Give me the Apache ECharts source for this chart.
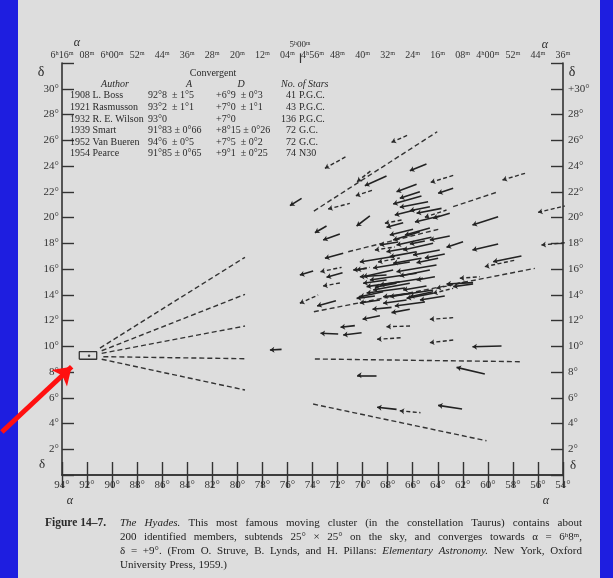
<!DOCTYPE html>
<html><head><meta charset="utf-8">
<script src="https://cdn.jsdelivr.net/npm/echarts@6/dist/echarts.min.js"></script>
<style>html,body{margin:0;padding:0;background:#1e1ee0;}#c{width:613px;height:578px;}</style>
</head><body><div id="c"></div>
<script>
// ---- tick labels ----
const raLabels = ['6ʰ16ᵐ','08ᵐ','6ʰ00ᵐ','52ᵐ','44ᵐ','36ᵐ','28ᵐ','20ᵐ','12ᵐ','04ᵐ','4ʰ56ᵐ','48ᵐ','40ᵐ','32ᵐ','24ᵐ','16ᵐ','08ᵐ','4ʰ00ᵐ','52ᵐ','44ᵐ','36ᵐ'];
const raDegTicks = [94,92,90,88,86,84,82,80,78,76,74,72,70,68,66,64,62,60,58,56,54];
const decLeftLabels = {2:'2°',4:'4°',6:'6°',8:'8°',10:'10°',12:'12°',14:'14°',16:'16°',18:'18°',20:'20°',22:'22°',24:'24°',26:'26°',28:'28°',30:'30°'};
const decRightLabels = {2:'2°',4:'4°',6:'6°',8:'8°',10:'10°',12:'12°',14:'14°',16:'16°',18:'18°',20:'20°',22:'22°',24:'24°',26:'26°',28:'28°',30:'+30°'};

// ---- convergent point ----
const convergentBox = [[92.62,8.99],[91.23,8.99],[91.23,9.58],[92.62,9.58],[92.62,8.99]];
const convergentPoint = [[91.84,9.27]];
const pointerArrow = [[98.8,3.34],[93.23,8.41]];
const hourTick = [[75,32],[75,32.75]];

// ---- dashed lines from the convergent point [a1,d1,a2,d2] ----
const fanLines = [
 [90.97,9.86,79.39,16.91],
 [90.83,9.65,79.39,14.03],
 [90.83,9.45,79.39,11.57],
 [90.70,9.19,79.39,9.03],
 [90.83,8.99,79.39,6.60]
];
// long dashed guide lines
const longDashes = [
 [73.89,20.50,64.04,26.66],
 [71.15,17.34,63.96,19.08],
 [73.89,12.68,56.25,16.05],
 [73.81,9.01,57.45,8.80],
 [73.95,5.51,60.11,2.66],
 [62.77,20.84,59.31,21.96]
];
// proper-motion arrows: [head alpha, head delta, tail alpha, tail delta]
const solidArrows = [
 [69.82,22.47,68.09,23.22],[66.23,23.63,64.90,24.16],[75.80,20.92,74.87,21.49],
 [67.29,22.00,65.69,22.58],[63.97,21.88,62.77,22.27],[61.23,19.42,59.18,20.06],
 [61.23,17.48,59.18,17.94],[59.58,16.57,57.32,17.01],[61.23,9.96,58.91,10.02],
 [73.63,13.13,72.13,13.54],[70.00,12.09,68.62,12.37],[69.21,12.87,67.69,13.02],
 [67.69,12.61,66.23,12.87],[71.76,11.47,70.62,11.60],[73.36,11.01,71.95,10.95],
 [71.55,10.87,70.08,11.05],[70.44,7.74,68.89,7.74],[62.50,8.36,60.24,7.84],
 [68.84,5.26,67.29,5.10],[63.97,5.41,62.06,5.13],[77.40,9.71,76.47,9.76],
 [73.81,18.82,72.88,19.34],[70.48,19.34,69.42,20.12],[73.15,18.25,71.82,18.72],
 [73.01,16.83,71.55,17.22],[75.01,15.53,73.95,15.84],[72.88,15.36,71.60,15.71],
 [70.48,13.72,69.02,13.90],[70.75,15.92,69.68,16.05],[63.30,14.83,61.18,14.94],
 [63.30,17.69,61.98,18.12],
 [67.03,21.49,65.43,22.00],[67.56,21.05,65.30,21.67],[67.03,20.79,64.77,21.23],
 [66.23,20.53,64.63,20.84],[65.69,20.33,63.70,20.71],[64.37,19.94,63.04,20.33],
 [68.09,19.24,66.76,19.60],[67.83,18.64,65.97,19.08],[67.56,18.25,65.43,18.90],
 [67.29,17.86,64.50,18.46],[66.76,17.48,64.37,18.00],[68.09,17.34,66.49,17.61],
 [67.83,16.96,65.69,17.34],[65.97,17.09,63.84,17.48],[67.56,16.44,65.30,16.83],
 [65.69,16.49,63.97,16.83],[69.96,15.40,67.56,15.92],[67.29,15.79,64.10,16.31],
 [69.42,15.15,65.69,15.67],[68.62,14.76,65.17,15.28],[65.69,15.15,64.23,15.40],
 [69.16,14.37,66.23,14.89],[66.76,14.37,64.90,14.68],[70.22,13.85,68.36,14.24],
 [67.83,13.85,64.37,14.37],[70.22,15.40,68.09,15.53],[69.68,14.63,67.03,15.01],
 [68.36,13.85,66.23,14.11],[66.23,13.85,64.37,14.24],[68.36,13.34,66.49,13.59],
 [69.96,14.89,68.09,15.15],[69.02,14.58,67.29,14.89],[66.49,13.72,64.37,14.11],
 [62.77,14.63,61.18,14.83],
 [70.22,16.54,67.43,16.99],[69.16,16.08,66.23,16.54],[67.03,15.46,64.63,15.92],
 [69.68,14.14,66.61,14.52],[67.43,13.13,65.03,13.44],[65.42,13.59,63.44,13.90],
 [70.22,13.36,68.62,13.59],[66.62,18.64,64.63,19.18],[65.82,19.65,63.84,20.12],
 [67.43,20.19,65.82,20.58],[68.62,17.86,67.16,18.10],[65.03,16.85,63.44,17.17],
 [64.63,18.25,63.04,18.56],[66.23,17.94,65.03,18.17]
];
const dashedArrows = [
 [67.69,25.84,66.37,26.41],[73.01,23.82,71.34,24.72],[70.44,22.78,69.29,23.67],
 [64.56,22.73,62.72,23.28],[72.75,20.66,71.02,21.10],[70.54,21.69,69.16,22.14],
 [58.83,22.91,56.87,23.48],[55.99,20.40,53.86,20.89],[55.72,17.86,53.86,18.04],
 [60.24,16.18,57.77,16.70],[73.15,14.68,71.68,14.94],[64.63,12.09,62.77,12.22],
 [68.09,11.52,66.17,11.57],[68.84,10.54,66.89,10.66],[64.63,10.28,62.72,10.49],
 [67.03,4.99,65.38,4.84],[68.22,19.55,66.89,19.81],[73.36,15.79,71.68,16.13],
 [65.03,20.02,63.30,20.58],[70.48,15.92,69.42,16.13],[62.24,15.28,60.64,15.40],
 [64.10,14.50,61.70,15.01],[64.37,14.11,62.77,14.50],[75.01,13.34,73.55,13.98],
 [68.77,16.54,67.03,16.85],[69.02,17.48,67.43,17.71]
];

// ---- table ----
const tableYears = ['1908','1921','1932','1939','1952','1954'];
const tableAuthors = ['L. Boss','Rasmusson','R. E. Wilson','Smart','Van Bueren','Pearce'];
const tableA = ['92°8  ± 1°5','93°2  ± 1°1','93°0','91°83 ± 0°66','94°6  ± 0°5','91°85 ± 0°65'];
const tableD = ['+6°9  ± 0°3','+7°0  ± 1°1','+7°0','+8°15 ± 0°26','+7°5  ± 0°2','+9°1  ± 0°25'];
const tableN = ['41','43','136','72','72','74'];
const tableCat = ['P.G.C.','P.G.C.','P.G.C.','G.C.','G.C.','N30'];

// ---- caption ----
const captionLines = [
 [{t:'The Hyades.',s:'i'},{t:'This most famous moving cluster (in the constellation Taurus) contains about',s:'n'}],
 [{t:'200 identified members, subtends 25° × 25° on the sky, and converges towards α = 6ʰ8ᵐ,',s:'n'}],
 [{t:'δ = +9°. (From O. Struve, B. Lynds, and H. Pillans:',s:'n'},{t:'Elementary Astronomy.',s:'i'},{t:'New York, Oxford',s:'n'}],
 [{t:'University Press, 1959.)',s:'n'}]
];

const SERIF = '"Liberation Serif","DejaVu Serif",serif';
const INK = '#2a2a2a';
const chart = echarts.init(document.getElementById('c'), null, {renderer:'canvas'});

const graphics = [];
graphics.push({type:'rect', z:-10, silent:true, shape:{x:0,y:0,width:613,height:578}, style:{fill:'#1e1ee0'}});
graphics.push({type:'rect', z:-9, silent:true, shape:{x:18,y:0,width:582,height:578}, style:{fill:'#dddddd'}});
function txt(s, x, y, font, align, fill){
  graphics.push({type:'text', x:x, y:y, z:5, silent:true,
    style:{text:s, font:font, fill:fill||INK, align:align||'left', verticalAlign:'middle'}});
}
// axis symbols
txt('α', 77, 43, 'italic 12px '+SERIF, 'center');
txt('α', 545, 45, 'italic 12px '+SERIF, 'center');
txt('α', 70, 501, 'italic 12px '+SERIF, 'center');
txt('α', 546, 501, 'italic 12px '+SERIF, 'center');
txt('δ', 41, 72, '14px '+SERIF, 'center');
txt('δ', 42, 465, '13px '+SERIF, 'center');
txt('δ', 572, 72, '14px '+SERIF, 'center');
txt('δ', 573, 466, '13px '+SERIF, 'center');
txt('5ʰ00ᵐ', 300, 45, '9px '+SERIF, 'center');
// table
txt('Convergent', 213, 73, '10px '+SERIF, 'center');
txt('Author', 115, 84, 'italic 10px '+SERIF, 'center');
txt('A', 189, 84, 'italic 10px '+SERIF, 'center');
txt('D', 241, 84, 'italic 10px '+SERIF, 'center');
txt('No. of Stars', 281, 84, 'italic 10px '+SERIF, 'left');
const rowY = [95,107,119,130,142,153];
for (let i=0;i<tableYears.length;i++){
  const y = rowY[i], f = '10px '+SERIF;
  txt(tableYears[i]+' '+tableAuthors[i], 70, y, f, 'left');
  txt(tableA[i], 148, y, f, 'left');
  txt(tableD[i], 216, y, f, 'left');
  txt(tableN[i], 296, y, f, 'right');
  txt(tableCat[i], 299, y, f, 'left');
}
// caption
const cctx = document.createElement('canvas').getContext('2d');
function fontFor(s){ return (s==='i'?'italic ':'') + '11px ' + SERIF; }
function wordsOf(line){
  const w=[]; line.forEach(p=>p.t.split(' ').forEach(t=>{ if(t) w.push({t:t,s:p.s}); })); return w;
}
const capY = [523, 537, 551, 565];
txt('Figure 14–7.', 45, capY[0], 'bold 11.5px '+SERIF, 'left');
captionLines.forEach((line, li)=>{
  const words = wordsOf(line);
  const widths = words.map(w=>{ cctx.font = fontFor(w.s); return cctx.measureText(w.t).width; });
  const total = widths.reduce((a,b)=>a+b,0);
  const x0 = 120, x1 = 582;
  const justify = li < captionLines.length-1;
  let gap = justify ? (x1-x0-total)/(words.length-1) : 3;
  let x = x0;
  words.forEach((w,i)=>{ txt(w.t, x, capY[li], fontFor(w.s), 'left', '#222'); x += widths[i] + gap; });
});

function segs(arr){ return arr.map(a=>({coords:[[a[0],a[1]],[a[2],a[3]]]})); }

const axisLineStyle = {color:'#333', width:1.6};
const tickStyle = {color:'#333', width:1.4};
const lblFont = {fontFamily:SERIF, fontSize:11, color:'#333'};

chart.setOption({
  animation:false,
  backgroundColor:'transparent',
  grid:{left:62, right:50, top:63, bottom:103},
  xAxis:[
    {type:'value', min:54, max:94, interval:2, inverse:true, position:'bottom',
     axisLine:{lineStyle:axisLineStyle}, axisTick:{inside:true, length:13, lineStyle:tickStyle},
     splitLine:{show:false}, axisLabel:Object.assign({margin:5, formatter:v=>v+'°'}, lblFont)},
    {type:'value', min:54, max:94, interval:2, inverse:true, position:'top',
     axisLine:{lineStyle:axisLineStyle}, axisTick:{inside:true, length:13, lineStyle:tickStyle},
     splitLine:{show:false}, axisLabel:Object.assign({margin:3, formatter:v=>raLabels[raDegTicks.indexOf(v)]||''}, lblFont, {fontSize:10})}
  ],
  yAxis:[
    {type:'value', min:0, max:32, interval:2, position:'left',
     axisLine:{lineStyle:axisLineStyle}, axisTick:{inside:true, length:12, lineStyle:tickStyle},
     splitLine:{show:false}, axisLabel:Object.assign({margin:3, formatter:v=>decLeftLabels[v]||''}, lblFont)},
    {type:'value', min:0, max:32, interval:2, position:'right',
     axisLine:{lineStyle:axisLineStyle}, axisTick:{inside:true, length:12, lineStyle:tickStyle},
     splitLine:{show:false}, axisLabel:Object.assign({margin:5, formatter:v=>decRightLabels[v]||''}, lblFont)}
  ],
  graphic:graphics,
  series:[
    {type:'lines', coordinateSystem:'cartesian2d', clip:false, silent:true,
     symbol:'none', lineStyle:{color:'#333', width:1.4, type:[5,3], opacity:1},
     data:segs(fanLines)},
    {type:'lines', coordinateSystem:'cartesian2d', clip:false, silent:true,
     symbol:'none', lineStyle:{color:'#333', width:1.4, type:[5,3], opacity:1},
     data:segs(longDashes)},
    {type:'lines', coordinateSystem:'cartesian2d', clip:false, silent:true,
     symbol:['arrow','none'], symbolSize:[4.5,0], lineStyle:{color:'#2a2a2a', width:1.4, type:[4,2.5], opacity:1},
     data:segs(dashedArrows)},
    {type:'lines', coordinateSystem:'cartesian2d', clip:false, silent:true,
     symbol:['arrow','none'], symbolSize:[4.5,0], lineStyle:{color:'#222', width:1.6, opacity:1},
     data:segs(solidArrows)},
    {type:'line', data:convergentBox, symbol:'none', silent:true,
     lineStyle:{color:'#333', width:1.3}},
    {type:'scatter', data:convergentPoint, symbolSize:2.5, silent:true, itemStyle:{color:'#222'}},
    {type:'lines', coordinateSystem:'cartesian2d', clip:false, silent:true,
     symbol:'none', lineStyle:{color:'#333', width:1.2, opacity:1},
     data:[{coords:hourTick}]},
    {type:'lines', coordinateSystem:'cartesian2d', clip:false, silent:true, z:10,
     symbol:['none','arrow'], symbolSize:[0,17], lineStyle:{color:'#ff1010', width:5, opacity:1},
     itemStyle:{color:'#ff1010'},
     data:[{coords:pointerArrow}]}
  ]
});
</script></body></html>
